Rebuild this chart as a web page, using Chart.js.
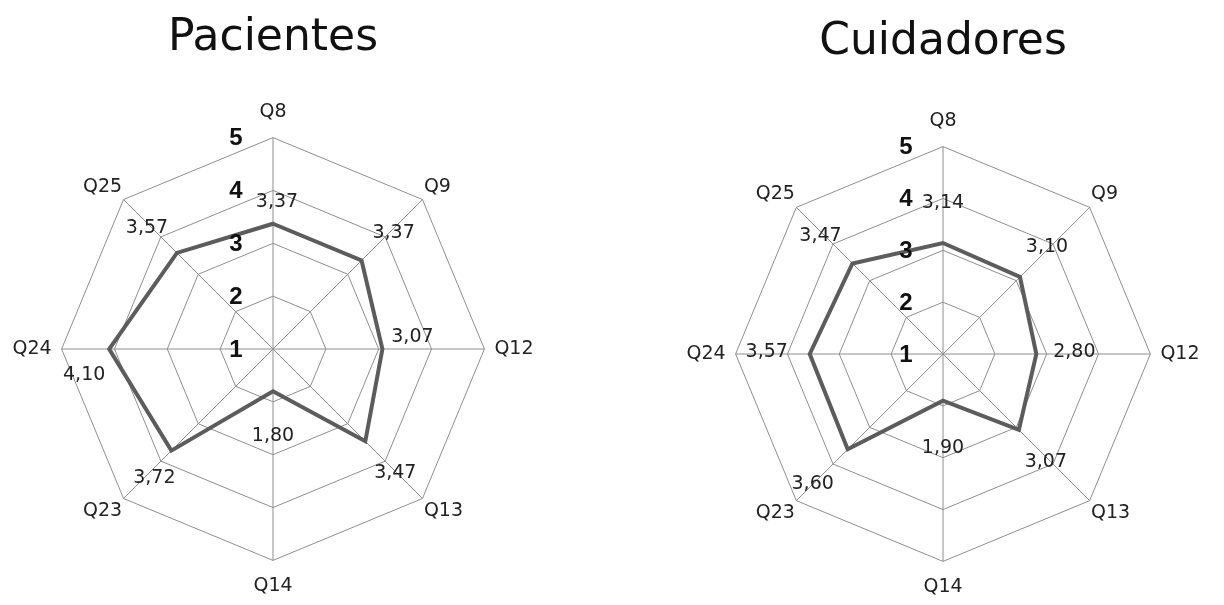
<!DOCTYPE html>
<html>
<head>
<meta charset="utf-8">
<script src="https://cdn.jsdelivr.net/npm/chart.js@4.4.1/dist/chart.umd.min.js"></script>
<style>
  html, body { margin: 0; padding: 0; background: #ffffff; }
  .box { position: absolute; top: 0; height: 605px; }
  #boxPac { left: 0; width: 546px; }
  #boxCui { left: 680px; width: 526px; }
</style>
</head>
<body>
<div class="box" id="boxPac"><canvas id="pacChart"></canvas></div>
<div class="box" id="boxCui"><canvas id="cuiChart"></canvas></div>
<script>
// datos
var questions  = ['Q8', 'Q9', 'Q12', 'Q13', 'Q14', 'Q23', 'Q24', 'Q25'];
var pacientes  = [3.37, 3.37, 3.07, 3.47, 1.80, 3.72, 4.10, 3.57];
var cuidadores = [3.14, 3.10, 2.80, 3.07, 1.90, 3.60, 3.57, 3.47];
var tickValues = [1, 2, 3, 4, 5];
var tickLabels = ['1', '2', '3', '4', '5'];

var GRID = '#8e8e8e';
var TEXT = '#222222';

// etiquetas de escala (negrita, a la izquierda del eje Q8) y valores con coma
function makeLabelPlugin(offsets) {
    return {
        id: 'radarLabels',
        afterDatasetsDraw: function(chart) {
            var ctx = chart.ctx;
            var scale = chart.scales.r;
            ctx.save();
            ctx.textAlign = 'center';
            ctx.textBaseline = 'middle';

            ctx.font = 'bold 24px "Liberation Sans"';
            ctx.fillStyle = '#111111';
            tickValues.forEach(function(v, i) {
                var p = scale.getPointPositionForValue(0, v);
                ctx.fillText(tickLabels[i], scale.xCenter - 37, p.y + 1);
            });

            var meta = chart.getDatasetMeta(0);
            var values = chart.data.datasets[0].data;
            ctx.font = '19px "DejaVu Sans"';
            ctx.fillStyle = TEXT;
            meta.data.forEach(function(pt, i) {
                var txt = values[i].toFixed(2).replace('.', ',');
                ctx.fillText(txt, pt.x + offsets[i][0], pt.y + offsets[i][1]);
            });
            ctx.restore();
        }
    };
}

function buildRadar(canvasId, title, values, offsets, titlePad, bottomPad) {
    var ctx = document.getElementById(canvasId);
    return new Chart(ctx, {
        type: 'radar',
        data: {
            labels: questions,
            datasets: [{
                label: title,
                data: values,
                borderColor: '#5c5c5c',
                backgroundColor: 'rgba(0,0,0,0)',
                borderWidth: 4,
                pointRadius: 0,
                pointHoverRadius: 0,
                fill: false
            }]
        },
        options: {
            responsive: true,
            maintainAspectRatio: false,
            animation: false,
            layout: { padding: { top: 0, left: 0, right: 0, bottom: bottomPad } },
            plugins: {
                legend: { display: false },
                tooltip: { enabled: false },
                title: {
                    display: true,
                    text: title,
                    color: '#111111',
                    font: { family: 'DejaVu Sans', size: 44, weight: 'normal' },
                    padding: titlePad
                }
            },
            scales: {
                r: {
                    min: 1,
                    max: 5,
                    ticks: { display: false, stepSize: 1 },
                    grid: { color: GRID, lineWidth: 1 },
                    angleLines: { color: GRID, lineWidth: 1 },
                    pointLabels: {
                        color: TEXT,
                        font: { family: 'DejaVu Sans', size: 19 },
                        padding: function(c) {
                            if (c.index % 2 === 1) return 2;
                            if (c.index === 2 || c.index === 6) return 10;
                            return 14;
                        }
                    }
                }
            }
        },
        plugins: [makeLabelPlugin(offsets)]
    });
}

document.addEventListener('DOMContentLoaded', function() {
    buildRadar('pacChart', 'Pacientes', pacientes,
        [[4, -22], [32, -27], [30, -12], [30, 32], [0, 45], [-17, 27], [-25, 26], [-30, -25]],
        { top: 12, bottom: 36 }, 6);
    buildRadar('cuiChart', 'Cuidadores', cuidadores,
        [[0, -40], [27, -30], [38, -2], [27, 32], [0, 47], [-35, 35], [-43, -2], [-32, -27]],
        { top: 16, bottom: 41 }, 5);
});
</script>
</body>
</html>
